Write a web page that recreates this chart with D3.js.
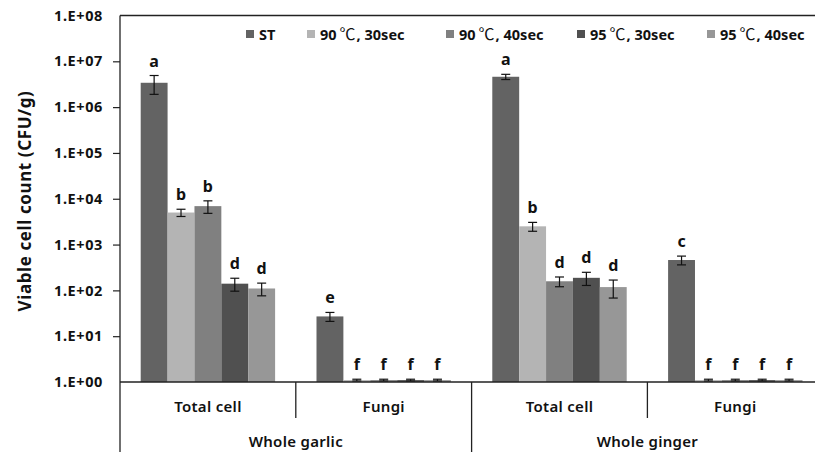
<!DOCTYPE html>
<html>
<head>
<meta charset="utf-8">
<script src="https://cdn.jsdelivr.net/npm/d3@7"></script>
<style>
  body { margin: 0; background: #fff; }
  text { font-family: "Noto Sans", "DejaVu Sans", sans-serif; fill: #111; }
</style>
</head>
<body>
<div id="chart"></div>
<script>
// chart data
var subCats = ['Total cell', 'Fungi', 'Total cell', 'Fungi'];
var groups = ['Whole garlic', 'Whole ginger'];
var seriesNames = ['ST', '90\u2103, 30sec', '90\u2103, 40sec', '95\u2103, 30sec', '95\u2103, 40sec'];
var seriesColors = ['#636363', '#b4b4b4', '#808080', '#505050', '#979797'];

// one row per series, one value per sub category
var means = [
  [3.4e6, 27, 4.6e6, 460],
  [5000, 1.1, 2500, 1.1],
  [6900, 1.1, 158, 1.1],
  [140, 1.1, 188, 1.1],
  [110, 1.1, 118, 1.1]
];
var errors = [
  [1.5e6, 6, 0.6e6, 100],
  [900, 0.05, 550, 0.05],
  [2100, 0.05, 38, 0.05],
  [44, 0.05, 60, 0.05],
  [34, 0.05, 50, 0.05]
];
var letters = [
  ['a', 'e', 'a', 'c'],
  ['b', 'f', 'b', 'f'],
  ['b', 'f', 'd', 'f'],
  ['d', 'f', 'd', 'f'],
  ['d', 'f', 'd', 'f']
];
var yTicks = [1, 10, 100, 1e3, 1e4, 1e5, 1e6, 1e7, 1e8];

// sizes
var width = 815,
    height = 452,
    plotLeft = 120,
    plotTop = 15.5,
    plotBottom = 382,
    groupW = 175.8;

var svg = d3.select('#chart').append('svg')
  .attr('width', width)
  .attr('height', height);

var x0 = d3.scaleBand()
  .domain(d3.range(subCats.length))
  .range([plotLeft, plotLeft + groupW * subCats.length])
  .paddingInner(0)
  .paddingOuter(0);

var x1 = d3.scaleBand()
  .domain(d3.range(seriesNames.length))
  .range([0, groupW])
  .paddingInner(0)
  .paddingOuter(0.77);

var y = d3.scaleLog()
  .domain([1, 1e8])
  .range([plotBottom, plotTop]);

// top frame line
svg.append('line')
  .attr('x1', plotLeft).attr('x2', width)
  .attr('y1', y(1e8)).attr('y2', y(1e8))
  .attr('stroke', '#222').attr('stroke-width', 1.3);

// y axis
var yAxis = d3.axisLeft(y)
  .tickValues(yTicks)
  .tickSize(7)
  .tickFormat(function(d) {
    var e = Math.round(Math.log10(d));
    return '1.E+' + (e < 10 ? '0' : '') + e;
  });

var yg = svg.append('g')
  .attr('transform', 'translate(' + plotLeft + ',0)')
  .call(yAxis);
yg.select('.domain').remove();
yg.selectAll('line').attr('stroke', '#222').attr('stroke-width', 1.2);
yg.selectAll('text')
  .attr('x', -17)
  .style('font-size', '14.5px')
  .style('font-weight', 'bold')
  .style('letter-spacing', '0.6px')
  .style('font-family', '"Noto Sans", sans-serif')
  .style('fill', '#111');
// first and last ticks sit on the frame lines
yg.selectAll('.tick').filter(function(d) { return d === 1 || d === 1e8; }).select('line').remove();

svg.append('line')
  .attr('x1', plotLeft).attr('x2', plotLeft)
  .attr('y1', y(1e8)).attr('y2', height)
  .attr('stroke', '#222').attr('stroke-width', 1.3);

// bars
var bars = [];
means.forEach(function(row, s) {
  row.forEach(function(v, c) {
    bars.push({ s: s, c: c, v: v, e: errors[s][c], l: letters[s][c] });
  });
});

svg.append('g').selectAll('rect')
  .data(bars)
  .enter()
  .append('rect')
  .attr('x', function(d) { return x0(d.c) + x1(d.s); })
  .attr('y', function(d) { return y(d.v); })
  .attr('width', x1.bandwidth())
  .attr('height', function(d) { return plotBottom - y(d.v); })
  .attr('fill', function(d) { return seriesColors[d.s]; });

// error bars
var eg = svg.append('g').selectAll('g')
  .data(bars)
  .enter()
  .append('g')
  .attr('transform', function(d) { return 'translate(' + (x0(d.c) + x1(d.s) + x1.bandwidth() / 2) + ',0)'; })
  .attr('stroke', '#111')
  .attr('stroke-width', 1.2);

eg.append('line')
  .attr('y1', function(d) { return y(d.v + d.e); })
  .attr('y2', function(d) { return y(Math.max(d.v - d.e, 1)); });
eg.append('line')
  .attr('x1', -4.5).attr('x2', 4.5)
  .attr('y1', function(d) { return y(d.v + d.e); })
  .attr('y2', function(d) { return y(d.v + d.e); });
eg.append('line')
  .attr('x1', -4.5).attr('x2', 4.5)
  .attr('y1', function(d) { return y(Math.max(d.v - d.e, 1)); })
  .attr('y2', function(d) { return y(Math.max(d.v - d.e, 1)); });

// significance letters
svg.append('g').selectAll('text')
  .data(bars)
  .enter()
  .append('text')
  .attr('x', function(d) { return x0(d.c) + x1(d.s) + x1.bandwidth() / 2; })
  .attr('y', function(d) { return y(d.v + d.e) - 9; })
  .attr('text-anchor', 'middle')
  .style('font-size', '16px')
  .style('font-weight', 'bold')
  .text(function(d) { return d.l; });

// x axis base line
svg.append('line')
  .attr('x1', plotLeft).attr('x2', width)
  .attr('y1', plotBottom).attr('y2', plotBottom)
  .attr('stroke', '#222').attr('stroke-width', 1.3);

// separators between sub categories and groups
d3.range(1, subCats.length).forEach(function(i) {
  svg.append('line')
    .attr('x1', x0(i)).attr('x2', x0(i))
    .attr('y1', plotBottom).attr('y2', i % 2 === 0 ? height : 418)
    .attr('stroke', '#222').attr('stroke-width', 1.3);
});

svg.append('g').selectAll('text')
  .data(subCats)
  .enter()
  .append('text')
  .attr('x', function(d, i) { return x0(i) + groupW / 2; })
  .attr('y', 412)
  .attr('text-anchor', 'middle')
  .style('font-size', '15px')
  .style('font-weight', '600')
  .style('letter-spacing', '0.3px')
  .text(function(d) { return d; });

svg.append('g').selectAll('text')
  .data(groups)
  .enter()
  .append('text')
  .attr('x', function(d, i) { return x0(i * 2) + groupW; })
  .attr('y', 447)
  .attr('text-anchor', 'middle')
  .style('font-size', '15px')
  .style('font-weight', '600')
  .style('letter-spacing', '0.3px')
  .text(function(d) { return d; });

// y title
svg.append('text')
  .attr('transform', 'rotate(-90)')
  .attr('x', -201)
  .attr('y', 31)
  .attr('text-anchor', 'middle')
  .style('font-size', '17px')
  .style('font-weight', 'bold')
  .style('letter-spacing', '0.6px')
  .text('Viable cell count (CFU/g)');

// legend
var legendX = [246, 307, 446, 577, 707];
var legend = svg.append('g').selectAll('g')
  .data(seriesNames)
  .enter()
  .append('g')
  .attr('transform', function(d, i) { return 'translate(' + legendX[i] + ',30)'; });
legend.append('rect')
  .attr('width', 8).attr('height', 8)
  .attr('fill', function(d, i) { return seriesColors[i]; });
var legendText = legend.append('text')
  .attr('x', 13)
  .attr('y', 9.5)
  .style('font-size', '14.5px')
  .style('font-weight', 'bold');
// degree sign drawn from the CJK font, as in the original
legendText.each(function(d) {
  var t = d3.select(this);
  var parts = d.split('\u2103');
  t.append('tspan').text(parts[0]);
  if (parts.length > 1) {
    t.append('tspan')
      .attr('dx', 3)
      .style('font-family', '"Noto Sans CJK KR", sans-serif')
      .style('font-weight', 'normal')
      .style('font-size', '16px')
      .text('\u2103');
    t.append('tspan').attr('dx', 1).text(parts[1]);
  }
});
</script>
</body>
</html>
